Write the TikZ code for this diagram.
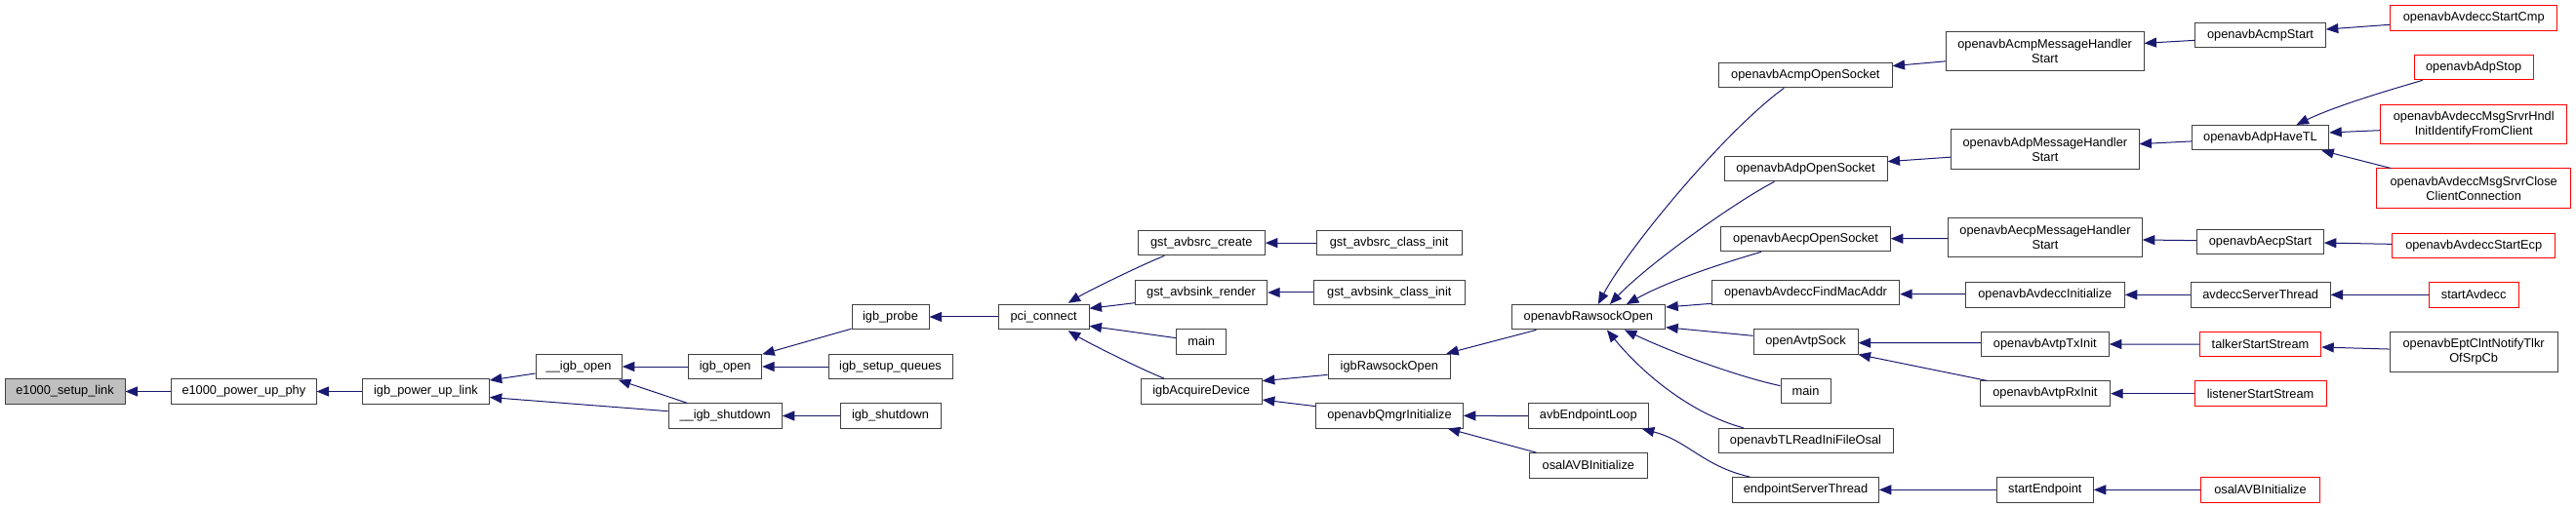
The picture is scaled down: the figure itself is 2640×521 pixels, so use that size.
\documentclass[tikz,border=0pt]{standalone}
\usepackage{fontspec}
\setmainfont{Liberation Sans}
\usetikzlibrary{arrows.meta,calc}
\definecolor{boxgray}{HTML}{404040}
\definecolor{boxred}{HTML}{FF0000}
\definecolor{rootgray}{HTML}{BFBFBF}
\definecolor{edgeblue}{HTML}{191970}
\tikzset{
  box/.style={draw=boxgray, line width=1pt, fill=white, inner sep=0pt,
    minimum height=25.4pt, align=center, text=black,
    font=\fontsize{12.8pt}{15pt}\selectfont},
  tallbox/.style={box, minimum height=40.3pt},
  rootbox/.style={box, fill=rootgray},
  redbox/.style={box, draw=boxred},
  redtall/.style={tallbox, draw=boxred},
  callarrow/.style={draw=edgeblue, line width=1pt,
    -{Triangle[length=12.5pt,width=10pt]}}
}
\begin{document}
\begin{tikzpicture}[x=1pt,y=-1pt]
\useasboundingbox (0,0) rectangle (2640,521);
% column 1-3
\node[rootbox, minimum width=123pt] (setup) at (66.5,401.5) {e1000\_setup\_link};
\node[box, minimum width=148.3pt] (phy) at (249.85,401.5) {e1000\_power\_up\_phy};
\node[box, minimum width=129.6pt] (uplink) at (436.5,401.5) {igb\_power\_up\_link};
% column 4-5
\node[box, minimum width=88.3pt] (igbopenA) at (593.15,376) {\_\_igb\_open};
\node[box, minimum width=75pt] (igbopen) at (743.2,376) {igb\_open};
\node[box, minimum width=116.3pt] (igbshutA) at (743.15,426.5) {\_\_igb\_shutdown};
% column 6
\node[box, minimum width=79pt] (probe) at (912.5,325) {igb\_probe};
\node[box, minimum width=127pt] (queues) at (912.5,376) {igb\_setup\_queues};
\node[box, minimum width=103pt] (igbshut) at (912.5,426.5) {igb\_shutdown};
% column 7
\node[box, minimum width=92.7pt] (pci) at (1069.65,325) {pci\_connect};
% column 8
\node[box, minimum width=130pt] (src) at (1231.3,249.15) {gst\_avbsrc\_create};
\node[box, minimum width=135.4pt] (sink) at (1231,300) {gst\_avbsink\_render};
\node[box, minimum width=51pt] (mainA) at (1231.2,350.35) {main};
\node[box, minimum width=124.3pt] (acq) at (1231.15,401.35) {igbAcquireDevice};
% column 9
\node[box, minimum width=148.7pt] (srcinit) at (1423.65,249.15) {gst\_avbsrc\_class\_init};
\node[box, minimum width=155pt] (sinkinit) at (1423.8,300) {gst\_avbsink\_class\_init};
\node[box, minimum width=125.7pt] (rawigb) at (1423.85,375.85) {igbRawsockOpen};
\node[box, minimum width=150.6pt] (qmgr) at (1424,426.35) {openavbQmgrInitialize};
% column 10
\node[box, minimum width=157.7pt] (raw) at (1627.85,325.2) {openavbRawsockOpen};
\node[box, minimum width=123pt] (avbloop) at (1627.8,426.65) {avbEndpointLoop};
\node[box, minimum width=121.7pt] (osalA) at (1627.85,477.35) {osalAVBInitialize};
% column 11
\node[box, minimum width=177.3pt] (acmpsock) at (1850.35,77.15) {openavbAcmpOpenSocket};
\node[box, minimum width=167pt] (adpsock) at (1850.5,173.15) {openavbAdpOpenSocket};
\node[box, minimum width=173.6pt] (aecpsock) at (1850.5,245.15) {openavbAecpOpenSocket};
\node[box, minimum width=192.4pt] (findmac) at (1850.5,299.85) {openavbAvdeccFindMacAddr};
\node[box, minimum width=107pt] (avtpsock) at (1850.5,350.35) {openAvtpSock};
\node[box, minimum width=51pt] (mainB) at (1850.5,401.15) {main};
\node[box, minimum width=179pt] (tlread) at (1850.5,452) {openavbTLReadIniFileOsal};
\node[box, minimum width=149.6pt] (eptthread) at (1850.5,502.35) {endpointServerThread};
% column 12
\node[tallbox, minimum width=202.7pt] (acmpmh) at (2095.65,52.85) {openavbAcmpMessageHandler\\Start};
\node[tallbox, minimum width=192.3pt] (adpmh) at (2095.85,153.15) {openavbAdpMessageHandler\\Start};
\node[tallbox, minimum width=198.6pt] (aecpmh) at (2096,243.7) {openavbAecpMessageHandler\\Start};
\node[box, minimum width=163pt] (avdinit) at (2095.8,302.35) {openavbAvdeccInitialize};
\node[box, minimum width=131pt] (txinit) at (2095.8,353) {openavbAvtpTxInit};
\node[box, minimum width=133.7pt] (rxinit) at (2095.85,403.65) {openavbAvtpRxInit};
\node[box, minimum width=99pt] (startept) at (2095.8,502.35) {startEndpoint};
% column 13
\node[box, minimum width=133.6pt] (acmpstart) at (2316.5,35.85) {openavbAcmpStart};
\node[box, minimum width=140.4pt] (adphave) at (2316.5,141.15) {openavbAdpHaveTL};
\node[box, minimum width=129.6pt] (aecpstart) at (2316.5,247.85) {openavbAecpStart};
\node[box, minimum width=142.7pt] (avdthread) at (2316.65,302.35) {avdeccServerThread};
\node[redbox, minimum width=124.4pt] (talker) at (2316.5,353.15) {talkerStartStream};
\node[redbox, minimum width=135pt] (listener) at (2316.5,403.65) {listenerStartStream};
\node[redbox, minimum width=121.6pt] (osalB) at (2316.5,502.35) {osalAVBInitialize};
% column 14
\node[redbox, minimum width=171pt] (startcmp) at (2535.2,18.5) {openavbAvdeccStartCmp};
\node[redbox, minimum width=121.7pt] (adpstop) at (2535.15,69.15) {openavbAdpStop};
\node[redtall, minimum width=191pt] (hndl) at (2535.2,127.7) {openavbAvdeccMsgSrvrHndl\\InitIdentifyFromClient};
\node[redtall, minimum width=199pt] (closecc) at (2535.2,193.15) {openavbAvdeccMsgSrvrClose\\ClientConnection};
\node[redbox, minimum width=167pt] (startecp) at (2535.2,251.85) {openavbAvdeccStartEcp};
\node[redbox, minimum width=92.3pt] (startavdecc) at (2535.15,302.35) {startAvdecc};
\node[tallbox, minimum width=172.3pt] (notify) at (2535.15,360.85) {openavbEptClntNotifyTlkr\\OfSrpCb};
% edges
\draw[callarrow] (phy.west) -- (setup.east);
\draw[callarrow] (uplink.west) -- (phy.east);
\draw[callarrow] ($(igbopenA.west)+(0,7)$) -- ($(uplink.east)+(0,-11.5)$);
\draw[callarrow] ($(igbshutA.west)+(0,-4.8)$) -- ($(uplink.east)+(0,6)$);
\draw[callarrow] (igbopen.west) -- (igbopenA.east);
\draw[callarrow] ($(igbshutA.north)+(-39,0)$) -- ($(igbopenA.south east)+(-4,0.5)$);
\draw[callarrow] ($(probe.south west)+(0,-1)$) -- ($(igbopen.north east)+(0,0.5)$);
\draw[callarrow] (queues.west) -- (igbopen.east);
\draw[callarrow] (igbshut.west) -- (igbshutA.east);
\draw[callarrow] (pci.west) -- (probe.east);
\draw[callarrow] ($(src.south)+(-38,0)$) .. controls +(-25,10) and +(20,-12) .. ($(pci.north)+(25,-1)$);
\draw[callarrow] ($(sink.west)+(0,10.7)$) -- ($(pci.east)+(0,-8.7)$);
\draw[callarrow] ($(mainA.west)+(0,-3.7)$) -- ($(pci.east)+(0,9.3)$);
\draw[callarrow] ($(acq.north)+(-38,0)$) .. controls +(-25,-10) and +(20,12) .. ($(pci.south)+(25,1)$);
\draw[callarrow] (srcinit.west) -- (src.east);
\draw[callarrow] (sinkinit.west) -- (sink.east);
\draw[callarrow] ($(rawigb.west)+(0,8.5)$) -- ($(acq.east)+(0,-10.7)$);
\draw[callarrow] ($(qmgr.west)+(0,-9.7)$) -- ($(acq.east)+(0,8.7)$);
\draw[callarrow] ($(raw.south west)+(26,0)$) -- ($(rawigb.north east)+(-5,0)$);
\draw[callarrow] (avbloop.west) -- (qmgr.east);
\draw[callarrow] ($(osalA.north west)+(8,0)$) -- ($(qmgr.south east)+(-16,0)$);
\draw[callarrow] ($(acmpsock.south)+(-22,0)$) .. controls (1768,134) and (1668,255) .. ($(raw.north)+(10,0)$);
\draw[callarrow] ($(adpsock.south)+(-32,0)$) .. controls (1780,206) and (1690,270) .. ($(raw.north)+(22,0)$);
\draw[callarrow] ($(aecpsock.south)+(-45.5,0)$) .. controls (1765,270) and (1710,288) .. ($(raw.north)+(39,0)$);
\draw[callarrow] ($(findmac.west)+(0,11.5)$) -- ($(raw.east)+(0,-10.2)$);
\draw[callarrow] ($(avtpsock.west)+(0,-6)$) -- ($(raw.east)+(0,10.5)$);
\draw[callarrow] ($(mainB.west)+(0,-5.5)$) .. controls (1780,386) and (1715,362) .. ($(raw.south)+(37,0)$);
\draw[callarrow] ($(tlread.north)+(-63.8,0)$) .. controls (1735,425) and (1685,385) .. ($(raw.south)+(19,0)$);
\draw[callarrow] ($(eptthread.north)+(-57,0)$) .. controls (1745,478) and (1730,452) .. ($(avbloop.south east)+(-7,0)$);
\draw[callarrow] ($(acmpmh.west)+(0,10)$) -- ($(acmpsock.east)+(0,-9.5)$);
\draw[callarrow] ($(adpmh.west)+(0,8)$) -- ($(adpsock.east)+(0,-7.5)$);
\draw[callarrow] ($(aecpmh.west)+(0,1)$) -- ($(aecpsock.east)+(0,-0.4)$);
\draw[callarrow] ($(avdinit.west)+(0,-0.6)$) -- ($(findmac.east)+(0,1.8)$);
\draw[callarrow] ($(txinit.west)+(0,-1.3)$) -- ($(avtpsock.east)+(0,1.3)$);
\draw[callarrow] ($(rxinit.north west)+(8,0)$) -- (avtpsock.south east);
\draw[callarrow] (startept.west) -- (eptthread.east);
\draw[callarrow] ($(acmpstart.west)+(0,5.5)$) -- ($(acmpmh.east)+(0,-8.5)$);
\draw[callarrow] ($(adphave.west)+(0,3.8)$) -- ($(adpmh.east)+(0,-5.5)$);
\draw[callarrow] ($(aecpstart.west)+(0,-1.2)$) -- ($(aecpmh.east)+(0,2.3)$);
\draw[callarrow] (avdthread.west) -- (avdinit.east);
\draw[callarrow] (talker.west) -- (txinit.east);
\draw[callarrow] (listener.west) -- (rxinit.east);
\draw[callarrow] (osalB.west) -- (startept.east);
\draw[callarrow] ($(startcmp.west)+(0,6.8)$) -- ($(acmpstart.east)+(0,-5.8)$);
\draw[callarrow] ($(adpstop.south)+(-52.5,0)$) .. controls (2450,92) and (2395,108) .. ($(adphave.north)+(37,0)$);
\draw[callarrow] ($(hndl.west)+(0,6)$) -- ($(adphave.east)+(0,-5.2)$);
\draw[callarrow] ($(closecc.north)+(-85,0)$) -- ($(adphave.south east)+(-8,0)$);
\draw[callarrow] ($(startecp.west)+(0,-1.5)$) -- ($(aecpstart.east)+(0,1.2)$);
\draw[callarrow] (startavdecc.west) -- (avdthread.east);
\draw[callarrow] ($(notify.west)+(0,-2.8)$) -- ($(talker.east)+(0,2.9)$);
\end{tikzpicture}
\end{document}
